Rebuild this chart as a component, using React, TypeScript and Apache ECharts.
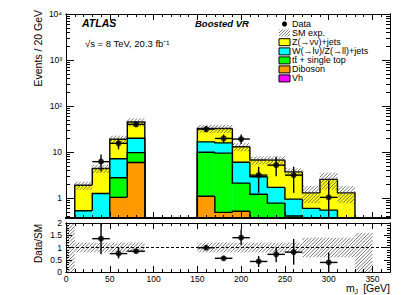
import React, { useEffect, useRef } from "react";
import * as echarts from "echarts";

// ---------------- data ----------------
const binLow = [10, 30, 50, 70, 150, 170, 190, 210, 230, 250, 270, 290, 310];
const binWidth = 20;

const vhYield = [0, 0, 0.01, 0.02, 0.03, 0.03, 0.02, 0.01, 0.01, 0.01, 0, 0, 0];
const dibosonYield = [0, 0, 1.03, 5.9, 1.07, 0.46, 0.5, 0.2, 0.1, 0.05, 0, 0, 0];
const topYield = [0, 0, 1.73, 3.8, 8.8, 9.0, 1.6, 1.0, 0.67, 0.35, 0.2, 0.2, 0];
const wzYield = [0.53, 1.26, 4.4, 10.3, 6.8, 6.4, 3.9, 1.7, 0.93, 0.54, 0.4, 0.35, 0.2];
const znnYield = [1.37, 3.14, 11.8, 25, 16, 16.6, 7.0, 3.8, 5.0, 2.76, 0.7, 2.0, 1.1];
const smRelUnc = [0.2, 0.2, 0.2, 0.2, 0.2, 0.2, 0.2, 0.2, 0.2, 0.2, 0.4, 0.4, 0.4];

const dataX = [40, 60, 80, 160, 180, 200, 220, 240, 260, 300];
const dataY = [6.2, 15.5, 40, 31.6, 19.8, 19.2, 3.16, 5.2, 3.16, 1.04];
const dataLo = [3.8, 11.5, 35, 27, 16, 15, 1.3, 3.0, 1.3, 0.2];
const dataHi = [8.9, 19.8, 45.5, 37, 24, 24, 4.8, 7.9, 4.8, 2.4];

const ratioY = [1.36, 0.75, 0.85, 0.99, 0.56, 1.4, 0.43, 0.72, 0.81, 0.39];
const ratioLo = [0.72, 0.55, 0.78, 0.9, 0.48, 1.1, 0.2, 0.4, 0.3, 0.0];
const ratioHi = [2.2, 1.0, 0.93, 1.1, 0.65, 1.75, 0.65, 1.0, 1.35, 0.8];

const emptyBinLow = [0, 330];
const emptyBinHigh = [10, 350];
const emptyBinHatchTop = [2, 1.6];

const stackNames = ["Vh", "Diboson", "tt\u0304 + single top", "W(\u2192l\u03bd)/Z(\u2192ll)+jets", "Z(\u2192\u03bd\u03bd)+jets"];
const stackColors = ["#ff00ff", "#ff9900", "#00ff00", "#00ffff", "#ffff00"];
const stackYields = [vhYield, dibosonYield, topYield, wzYield, znnYield];

const xTickMajor = [0, 50, 100, 150, 200, 250, 300, 350];
const mainYLabels = ["1", "10", "10\u00b2", "10\u00b3", "10\u2074"];
const ratioYLabels = ["0", "0.5", "1", "1.5", "2"];

// ---------------- helpers ----------------
const FONT = "'Liberation Sans', Arial, Helvetica, sans-serif";
const Y_MIN = 0.37;
const Y_MAX = 10000;
const LMIN = Math.log10(Y_MIN);
const LMAX = Math.log10(Y_MAX);
const L = (v: number) => Math.log10(Math.max(v, Y_MIN));
const X_MAX = 370;

const GL = 66, GW = 324;
const MAIN_T = 14, MAIN_H = 204;
const RAT_T = 223, RAT_H = 49;

const xTickMinor: number[] = [];
for (let v = 0; v <= X_MAX; v += 10) xTickMinor.push(v);
const yTickMinor: number[] = [];
for (let n = -1; n <= 3; n++) for (let k = 2; k <= 9; k++) {
  const v = k * Math.pow(10, n);
  if (v >= Y_MIN && v <= Y_MAX) yTickMinor.push(Math.log10(v));
}
const rTickMinor: number[] = [];
for (let v = 0; v <= 2.0001; v += 0.1) rTickMinor.push(Math.round(v * 10) / 10);

const hatchStyle = { stroke: "#555", lineWidth: 0.8 };

function hatchLines(xL: number, yT: number, xR: number, yB: number, step: number, style: any) {
  const out: any[] = [];
  if (xR - xL < 0.5 || yB - yT < 0.5) return out;
  const c0 = Math.ceil((xL + yT) / step) * step;
  for (let c = c0; c <= xR + yB; c += step) {
    const xa = Math.max(xL, c - yB);
    const xb = Math.min(xR, c - yT);
    if (xb - xa > 0.2) out.push({ type: "line", shape: { x1: xa, y1: c - xa, x2: xb, y2: c - xb }, style });
  }
  return out;
}

function xAx(grid: number, pos: string, vals: number[], len: number, lineW: number, labels: boolean) {
  return {
    type: "value", gridIndex: grid, position: pos, min: 0, max: X_MAX, z: 10,
    axisLine: { show: true, onZero: false, lineStyle: { color: "#000", width: lineW } },
    axisTick: { show: true, inside: true, length: len, customValues: vals, lineStyle: { color: "#000", width: 1 } },
    axisLabel: labels
      ? { show: true, customValues: xTickMajor, margin: 2, fontSize: 8.5, color: "#000", fontFamily: FONT }
      : { show: false },
    splitLine: { show: false },
  };
}

function yAx(grid: number, pos: string, min: number, max: number, vals: number[], len: number, label: any) {
  return {
    type: "value", gridIndex: grid, position: pos, min, max, z: 10,
    axisLine: { show: true, onZero: false, lineStyle: { color: "#000", width: 1 } },
    axisTick: { show: true, inside: true, length: len, customValues: vals, lineStyle: { color: "#000", width: 1 } },
    axisLabel: label || { show: false },
    splitLine: { show: false },
  };
}

export default function App() {
  const ref = useRef<HTMLDivElement>(null);

  useEffect(() => {
    if (!ref.current) return;
    const chart = echarts.init(ref.current, undefined, { renderer: "svg" });
    const n = binLow.length;

    // cumulative stacks
    const cum: number[][] = [];
    stackYields.forEach((arr, k) => {
      cum.push(arr.map((v, i) => v + (k > 0 ? cum[k - 1][i] : 0)));
    });
    const total = cum[cum.length - 1];

    const contiguous = (a: number, b: number) => binLow[a] + binWidth === binLow[b];

    const levelSeries = (k: number) => ({
      type: "custom",
      xAxisIndex: 0,
      yAxisIndex: 0,
      data: binLow.map((x, i) => [x, x + binWidth, L(cum[k][i])]),
      renderItem: (params: any, api: any) => {
        const i = params.dataIndex;
        const x0 = api.value(0), x1 = api.value(1), top = api.value(2);
        const pTL = api.coord([x0, top]);
        const pBR = api.coord([x1, LMIN]);
        const bottomY = pBR[1];
        const prevY = i > 0 && contiguous(i - 1, i) ? api.coord([x0, L(cum[k][i - 1])])[1] : bottomY;
        const last = !(i < n - 1 && contiguous(i, i + 1));
        const pts = [[pTL[0], prevY], [pTL[0], pTL[1]], [pBR[0], pTL[1]]];
        if (last) pts.push([pBR[0], bottomY]);
        return {
          type: "group",
          children: [
            { type: "rect", shape: { x: pTL[0], y: pTL[1], width: pBR[0] - pTL[0], height: bottomY - pTL[1] }, style: { fill: stackColors[k] } },
            { type: "polyline", shape: { points: pts }, style: { fill: "none", stroke: "#000", lineWidth: 1.4 } },
          ],
        };
      },
    });

    const series: any[] = [];
    for (let k = stackYields.length - 1; k >= 0; k--) series.push(levelSeries(k));

    // SM uncertainty hatch (main)
    series.push({
      type: "custom", xAxisIndex: 0, yAxisIndex: 0,
      data: binLow.map((x, i) => [x, x + binWidth, L(total[i] * (1 - smRelUnc[i])), L(total[i] * (1 + smRelUnc[i]))]),
      renderItem: (params: any, api: any) => {
        const p0 = api.coord([api.value(0), api.value(3)]);
        const p1 = api.coord([api.value(1), api.value(2)]);
        const cs = params.coordSys;
        const yT = Math.max(p0[1], cs.y), yB = Math.min(p1[1], cs.y + cs.height);
        return { type: "group", children: hatchLines(p0[0], yT, p1[0], yB, 3.5, hatchStyle) };
      },
    });

    // data error bars (main)
    series.push({
      type: "custom", xAxisIndex: 0, yAxisIndex: 0,
      data: dataX.map((x, i) => [x, L(dataLo[i]), L(dataHi[i]), L(dataY[i])]),
      renderItem: (params: any, api: any) => {
        const x = api.value(0);
        const cs = params.coordSys;
        const pl = api.coord([x, api.value(1)]);
        const ph = api.coord([x, api.value(2)]);
        const pa = api.coord([x - binWidth / 2, api.value(3)]);
        const pb = api.coord([x + binWidth / 2, api.value(3)]);
        const st = { stroke: "#000", lineWidth: 1.4 };
        return {
          type: "group",
          children: [
            { type: "line", shape: { x1: pl[0], y1: Math.min(pl[1], cs.y + cs.height), x2: ph[0], y2: Math.max(ph[1], cs.y) }, style: st },
            { type: "line", shape: { x1: pa[0], y1: pa[1], x2: pb[0], y2: pb[1] }, style: st },
          ],
        };
      },
    });
    series.push({
      type: "scatter", xAxisIndex: 0, yAxisIndex: 0, symbol: "circle", symbolSize: 6,
      itemStyle: { color: "#000" },
      data: dataX.map((x, i) => [x, L(dataY[i])]),
    });

    // ratio panel: uncertainty band
    series.push({
      type: "custom", xAxisIndex: 4, yAxisIndex: 4,
      data: binLow.map((x, i) => [x, x + binWidth, 1 - smRelUnc[i], 1 + smRelUnc[i]])
        .concat(emptyBinLow.map((x, i) => [x, emptyBinHigh[i], 0, emptyBinHatchTop[i]])),
      renderItem: (params: any, api: any) => {
        const p0 = api.coord([api.value(0), api.value(3)]);
        const p1 = api.coord([api.value(1), api.value(2)]);
        const cs = params.coordSys;
        const yT = Math.max(p0[1], cs.y), yB = Math.min(p1[1], cs.y + cs.height);
        return { type: "group", children: hatchLines(p0[0], yT, p1[0], yB, 3.5, hatchStyle) };
      },
    });
    series.push({
      type: "line", xAxisIndex: 4, yAxisIndex: 4, symbol: "none", silent: true,
      data: [[0, 1], [X_MAX, 1]],
      lineStyle: { color: "#000", width: 1.2, type: [3, 2] },
    });
    series.push({
      type: "custom", xAxisIndex: 4, yAxisIndex: 4,
      data: dataX.map((x, i) => [x, ratioLo[i], ratioHi[i], ratioY[i]]),
      renderItem: (params: any, api: any) => {
        const x = api.value(0);
        const cs = params.coordSys;
        const pl = api.coord([x, api.value(1)]);
        const ph = api.coord([x, api.value(2)]);
        const pa = api.coord([x - binWidth / 2, api.value(3)]);
        const pb = api.coord([x + binWidth / 2, api.value(3)]);
        const st = { stroke: "#000", lineWidth: 1.4 };
        return {
          type: "group",
          children: [
            { type: "line", shape: { x1: pl[0], y1: Math.min(pl[1], cs.y + cs.height), x2: ph[0], y2: Math.max(ph[1], cs.y) }, style: st },
            { type: "line", shape: { x1: pa[0], y1: pa[1], x2: pb[0], y2: pb[1] }, style: st },
          ],
        };
      },
    });
    series.push({
      type: "scatter", xAxisIndex: 4, yAxisIndex: 4, symbol: "circle", symbolSize: 6,
      itemStyle: { color: "#000" },
      data: dataX.map((x, i) => [x, ratioY[i]]),
    });

    // legend + texts
    const legX = 279, legBoxW = 11, legBoxH = 7, legTextX = 292;
    const legRows = [24, 33, 42.2, 51.4, 60.4, 69.4, 78.4];
    const txt = (text: string, x: number, y: number, size: number, extra: any = {}) => ({
      type: "text", x, y, z: 20,
      style: { text, fontSize: size, fontFamily: FONT, fill: "#000", align: "left", verticalAlign: "middle", ...extra },
    });
    const graphic: any[] = [];
    graphic.push(txt("ATLAS", 82, 23, 10.5, { fontWeight: "bold", fontStyle: "italic" }));
    graphic.push(txt("Boosted VR", 195, 23, 9.5, { fontWeight: "bold", fontStyle: "italic" }));
    graphic.push(txt("\u221as = 8 TeV, 20.3 fb\u207b\u00b9", 85, 43, 9.5));
    graphic.push({ type: "circle", z: 20, shape: { cx: legX + legBoxW / 2, cy: legRows[0], r: 2.6 }, style: { fill: "#000" } });
    graphic.push(txt("Data", legTextX, legRows[0], 9));
    hatchLines(legX, legRows[1] - legBoxH / 2, legX + legBoxW, legRows[1] + legBoxH / 2, 3, hatchStyle).forEach((l) => graphic.push({ ...l, z: 20 }));
    graphic.push(txt("SM exp.", legTextX, legRows[1], 9));
    for (let r = 0; r < 5; r++) {
      const k = 4 - r;
      const y = legRows[r + 2];
      graphic.push({ type: "rect", z: 20, shape: { x: legX, y: y - legBoxH / 2, width: legBoxW, height: legBoxH }, style: { fill: stackColors[k], stroke: "#000", lineWidth: 1 } });
      graphic.push(txt(stackNames[k], legTextX, y, 9));
    }
    graphic.push(txt("Events / 20 GeV", 38, 10, 10.5, { align: "right" }));
    graphic[graphic.length - 1].rotation = Math.PI / 2;
    graphic.push(txt("Data/SM", 38, 224, 10, { align: "right" }));
    graphic[graphic.length - 1].rotation = Math.PI / 2;
    graphic.push(txt("m", 346, 288, 10.5));
    graphic.push(txt("J", 354.5, 291, 7));
    graphic.push(txt("[GeV]", 390, 288, 10.5, { align: "right" }));

    const mainLabel = {
      show: true, customValues: [0, 1, 2, 3, 4], margin: 4, fontSize: 8.5, color: "#000", fontFamily: FONT,
      formatter: (v: number) => mainYLabels[Math.round(v)],
    };
    const ratioLabel = {
      show: true, customValues: [0, 0.5, 1, 1.5, 2], margin: 4, fontSize: 8.5, color: "#000", fontFamily: FONT,
      formatter: (v: number) => ratioYLabels[Math.round(v * 2)],
    };

    chart.setOption({
      animation: false,
      backgroundColor: "#fff",
      grid: [
        { left: GL, width: GW, top: MAIN_T, height: MAIN_H, show: false },
        { left: GL, width: GW, top: RAT_T, height: RAT_H, show: false },
      ],
      xAxis: [
        xAx(0, "bottom", xTickMajor, 6, 2.2, false),
        xAx(0, "bottom", xTickMinor, 3, 2.2, false),
        xAx(0, "top", xTickMajor, 6, 1, false),
        xAx(0, "top", xTickMinor, 3, 1, false),
        xAx(1, "bottom", xTickMajor, 6, 1, true),
        xAx(1, "bottom", xTickMinor, 3, 1, false),
        xAx(1, "top", xTickMajor, 6, 1, false),
        xAx(1, "top", xTickMinor, 3, 1, false),
      ],
      yAxis: [
        yAx(0, "left", LMIN, LMAX, [0, 1, 2, 3, 4], 8, mainLabel),
        yAx(0, "left", LMIN, LMAX, yTickMinor, 4, null),
        yAx(0, "right", LMIN, LMAX, [0, 1, 2, 3, 4], 8, null),
        yAx(0, "right", LMIN, LMAX, yTickMinor, 4, null),
        yAx(1, "left", 0, 2, [0, 0.5, 1, 1.5, 2], 6, ratioLabel),
        yAx(1, "left", 0, 2, rTickMinor, 3, null),
        yAx(1, "right", 0, 2, [0, 0.5, 1, 1.5, 2], 6, null),
        yAx(1, "right", 0, 2, rTickMinor, 3, null),
      ],
      series,
      graphic,
    });

    return () => chart.dispose();
  }, []);

  return <div ref={ref} style={{ position: "fixed", left: 0, top: 0, width: 411, height: 295, background: "#fff" }} />;
}
